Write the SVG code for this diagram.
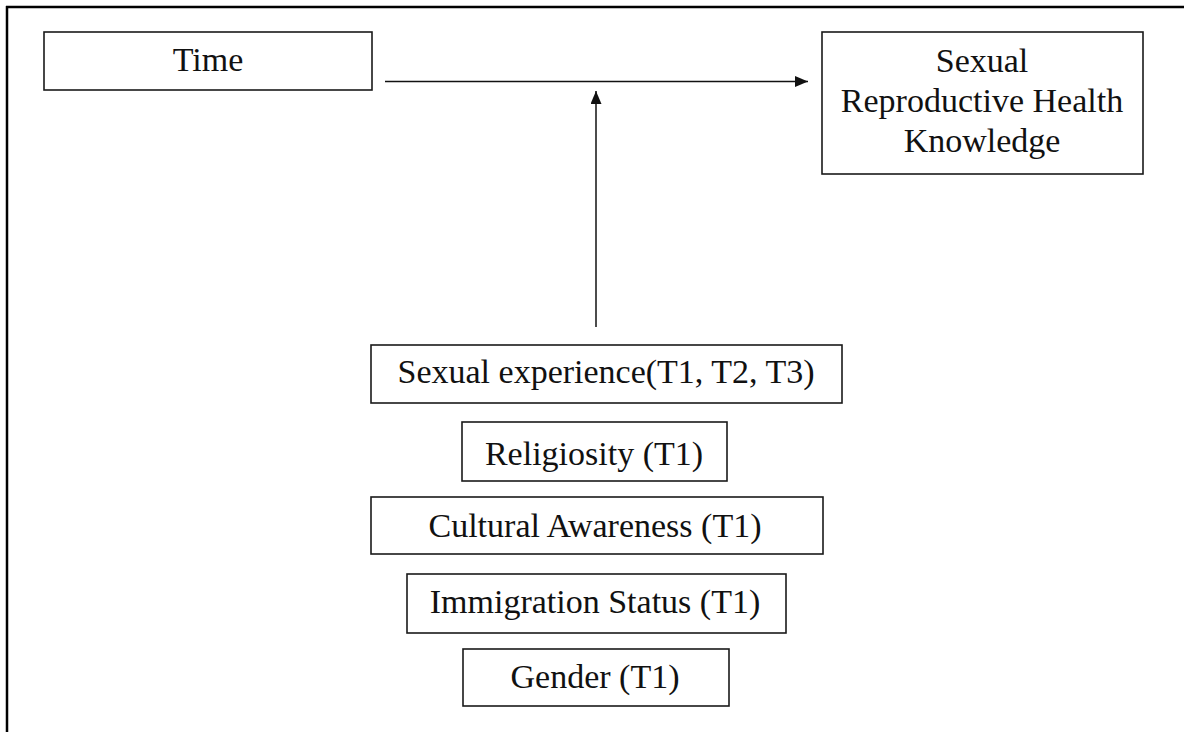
<svg xmlns="http://www.w3.org/2000/svg" width="1184" height="732" viewBox="0 0 1184 732">
<style>
.box{fill:#fff;stroke:#1a1a1a;stroke-width:1.6}
.lbl{font-family:"Liberation Serif","Times New Roman",serif;font-size:34px;fill:#111;text-anchor:middle}
.conn{stroke:#111;stroke-width:1.5;fill:none}
</style>
<defs>
<marker id="ah" markerWidth="13" markerHeight="11" refX="13" refY="5.5" orient="auto" markerUnits="userSpaceOnUse">
<path d="M0,0 L13,5.5 L0,11 Z" fill="#111"/>
</marker>
</defs>
<rect x="0" y="0" width="1184" height="732" fill="#fff"/>
<g id="frame">
<line x1="6" y1="7" x2="1184" y2="7" stroke="#000" stroke-width="2.5"/>
<line x1="7" y1="6" x2="7" y2="732" stroke="#000" stroke-width="2.5"/>
</g>
<g id="time">
<rect class="box" x="44" y="32" width="328" height="58"/>
<text class="lbl" x="208" y="71">Time</text>
</g>
<g id="srh">
<rect class="box" x="822" y="32" width="321" height="142"/>
<text class="lbl" x="982" y="72">Sexual</text>
<text class="lbl" x="982" y="112">Reproductive Health</text>
<text class="lbl" x="982" y="152">Knowledge</text>
</g>
<g id="sexexp">
<rect class="box" x="371" y="345" width="471" height="58"/>
<text class="lbl" x="606" y="383">Sexual experience(T1, T2, T3)</text>
</g>
<g id="religiosity">
<rect class="box" x="462" y="422" width="265" height="59"/>
<text class="lbl" x="594" y="465">Religiosity (T1)</text>
</g>
<g id="cultural">
<rect class="box" x="371" y="497" width="452" height="57"/>
<text class="lbl" x="595" y="537">Cultural Awareness (T1)</text>
</g>
<g id="immigration">
<rect class="box" x="407" y="574" width="379" height="59"/>
<text class="lbl" x="595" y="613">Immigration Status (T1)</text>
</g>
<g id="gender">
<rect class="box" x="463" y="649" width="266" height="57"/>
<text class="lbl" x="595" y="688">Gender (T1)</text>
</g>
<g id="connectors">
<line class="conn" x1="385" y1="81.5" x2="808" y2="81.5" marker-end="url(#ah)"/>
<line class="conn" x1="596" y1="327" x2="596" y2="91" marker-end="url(#ah)"/>
</g>
</svg>
